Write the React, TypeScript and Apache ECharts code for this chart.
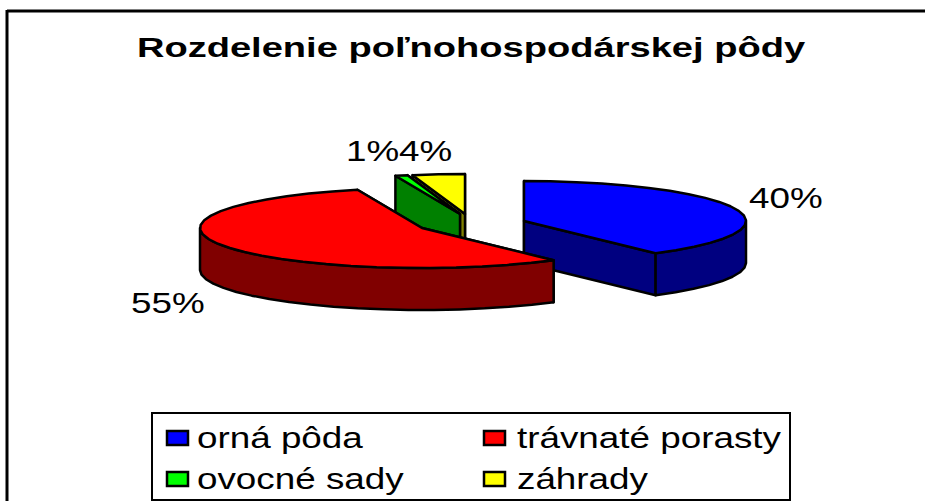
import React, { useEffect, useRef } from "react";
import * as echarts from "echarts";

const titleText = "Rozdelenie poľnohospodárskej pôdy";
const sliceNames = ["orná pôda", "trávnaté porasty", "ovocné sady", "záhrady"];
const sliceValues = [39.9, 55.4, 0.9, 3.8];
const topColors = ["#0000FF", "#FF0000", "#00FF00", "#FFFF00"];
const wallColors = ["#000080", "#800000", "#008000", "#808000"];

// Layout only (pixels): exploded centre of each slice, label anchors, legend rows
const centersX = [524, 422, 460, 465];
const centersY = [221, 228, 214, 214];
const labelX = [749, 131, 346, 399];
const labelY = [198, 303, 151, 151];
const legendColX = [167, 484, 167, 484];
const legendTextX = [197, 517, 197, 517];
const legendRowY = [438, 438, 479, 479];
const drawOrder = [3, 2, 0, 1];

const RX = 222;
const RY = 40;
const DEPTH = 42;
const STROKE = 2.5;
const FACET = 7;
const FONT = "Liberation Sans";
const STRETCH = 1.27;
const TITLE_STRETCH = 1.41;

const total = sliceValues.reduce((a, b) => a + b, 0);

function angleRange(index: number, value: number): [number, number] {
  let before = 0;
  for (let i = 0; i < index; i++) before += sliceValues[i];
  return [(before / total) * 360, ((before + value) / total) * 360];
}

function pointAt(cx: number, cy: number, deg: number, dz = 0): number[] {
  const r = (deg * Math.PI) / 180;
  return [cx + RX * Math.sin(r), cy - RY * Math.cos(r) + dz];
}

function arcPoints(cx: number, cy: number, a: number, b: number, dz = 0): number[][] {
  const pts: number[][] = [];
  const steps = Math.max(1, Math.ceil((b - a) / FACET));
  for (let i = 0; i <= steps; i++) pts.push(pointAt(cx, cy, a + ((b - a) * i) / steps, dz));
  return pts;
}

function makeRenderItem(index: number) {
  return (_params: any, api: any) => {
    const value = api.value(0);
    const [a, b] = angleRange(index, value);
    const cx = centersX[index];
    const cy = centersY[index];
    const top = topColors[index];
    const wall = wallColors[index];
    const line = { stroke: "#000", lineWidth: STROKE, lineJoin: "round" };
    const children: any[] = [];

    const radials = [a, b]
      .map((deg) => ({ deg, p: pointAt(cx, cy, deg) }))
      .sort((m, n) => m.p[1] - n.p[1]);
    radials.forEach(({ p }) => {
      children.push({
        type: "polygon",
        shape: { points: [[cx, cy], p, [p[0], p[1] + DEPTH], [cx, cy + DEPTH]] },
        style: { fill: wall, ...line },
      });
    });

    const fa = Math.max(a, 90);
    const fb = Math.min(b, 270);
    if (fb > fa) {
      const upper = arcPoints(cx, cy, fa, fb);
      const lower = arcPoints(cx, cy, fa, fb, DEPTH).reverse();
      children.push({
        type: "polygon",
        shape: { points: [...upper, ...lower] },
        style: { fill: wall, ...line },
      });
    }

    children.push({
      type: "polygon",
      shape: { points: [[cx, cy], ...arcPoints(cx, cy, a, b)] },
      style: { fill: top, ...line },
    });

    children.push({
      type: "text",
      x: labelX[index],
      y: labelY[index],
      scaleX: STRETCH,
      z2: 100,
      style: {
        text: `${Math.round(value)}%`,
        fontFamily: FONT,
        fontSize: 29,
        fill: "#000",
        textAlign: "left",
        textVerticalAlign: "middle",
      },
    });

    return { type: "group", children };
  };
}

export default function App() {
  const ref = useRef<HTMLDivElement>(null);

  useEffect(() => {
    if (!ref.current) return;
    const chart = echarts.init(ref.current, undefined, { renderer: "svg" });

    const legendItems: any[] = [];
    sliceNames.forEach((name, i) => {
      legendItems.push({
        type: "rect",
        shape: { x: legendColX[i], y: legendRowY[i] - 7, width: 21, height: 14 },
        style: { fill: topColors[i], stroke: "#000", lineWidth: 2.5 },
      });
      legendItems.push({
        type: "text",
        x: legendTextX[i],
        y: legendRowY[i],
        scaleX: STRETCH,
        style: {
          text: name,
          fontFamily: FONT,
          fontSize: 29,
          fill: "#000",
          textAlign: "left",
          textVerticalAlign: "middle",
        },
      });
    });

    chart.setOption({
      animation: false,
      backgroundColor: "#fff",
      graphic: [
        {
          type: "line",
          shape: { x1: 7, y1: 11, x2: 925, y2: 11 },
          style: { stroke: "#000", lineWidth: 3 },
        },
        {
          type: "line",
          shape: { x1: 7, y1: 10, x2: 7, y2: 501 },
          style: { stroke: "#000", lineWidth: 3 },
        },
        {
          type: "text",
          x: 471,
          y: 48,
          scaleX: TITLE_STRETCH,
          style: {
            text: titleText,
            fontFamily: FONT,
            fontWeight: "bold",
            fontSize: 27,
            fill: "#000",
            textAlign: "center",
            textVerticalAlign: "middle",
          },
        },
        {
          type: "rect",
          shape: { x: 152, y: 413, width: 638, height: 87 },
          style: { fill: "#fff", stroke: "#000", lineWidth: 2 },
        },
        ...legendItems,
      ],
      series: drawOrder.map((i) => ({
        type: "custom",
        name: sliceNames[i],
        coordinateSystem: "none",
        silent: true,
        clip: false,
        data: [[sliceValues[i]]],
        renderItem: makeRenderItem(i),
      })),
    });

    return () => chart.dispose();
  }, []);

  return (
    <div
      ref={ref}
      style={{ position: "absolute", left: 0, top: 0, width: 925, height: 501 }}
    />
  );
}
